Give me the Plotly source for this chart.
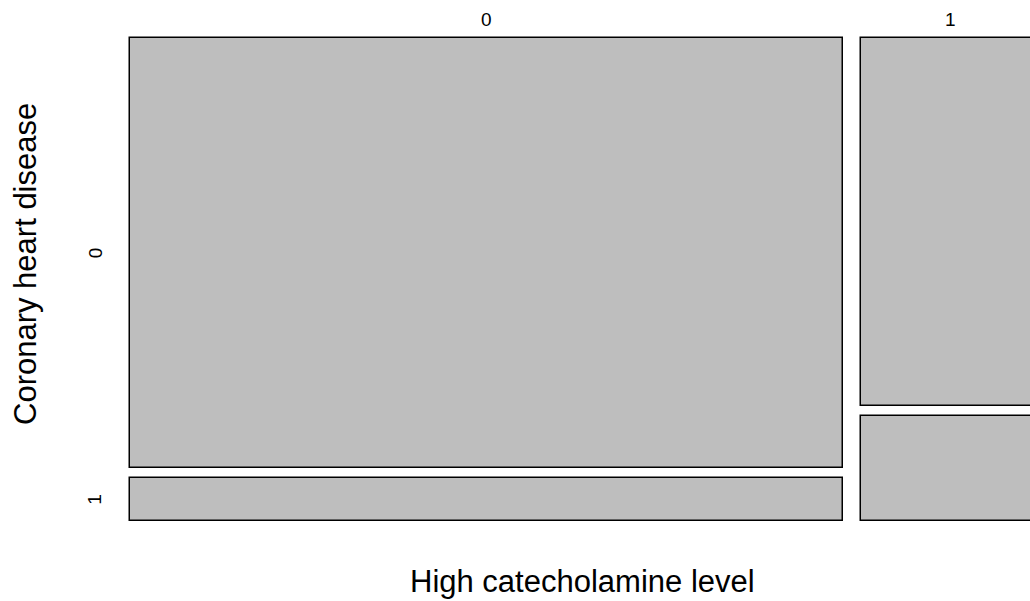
import plotly.graph_objects as go

# Data: Evans County - catecholamine level (CAT) vs coronary heart disease (CHD)
cat_levels = ["0", "1"]
chd_levels = ["0", "1"]
counts_chd0 = [443, 95]   # CHD = 0 for CAT = 0, 1
counts_chd1 = [44, 27]    # CHD = 1 for CAT = 0, 1

# style constants
GAP_X = 0.0202
GAP_Y = 0.02114
FILL = "#BEBEBE"

totals = [a + b for a, b in zip(counts_chd0, counts_chd1)]
N = sum(totals)
widths = [t / N for t in totals]

x_starts = []
pos = 0.0
for w in widths:
    x_starts.append(pos)
    pos += w + GAP_X

fig = go.Figure()
for i, cat in enumerate(cat_levels):
    p1 = counts_chd1[i] / totals[i]
    p0 = counts_chd0[i] / totals[i]
    xc = x_starts[i] + widths[i] / 2
    # CHD = 1 (bottom)
    fig.add_trace(go.Bar(x=[xc], y=[p1], base=[0], width=[widths[i]],
                         marker=dict(color=FILL, line=dict(color="black", width=1.5)),
                         showlegend=False, hoverinfo="skip"))
    # CHD = 0 (top)
    fig.add_trace(go.Bar(x=[xc], y=[p0], base=[p1 + GAP_Y], width=[widths[i]],
                         marker=dict(color=FILL, line=dict(color="black", width=1.5)),
                         showlegend=False, hoverinfo="skip"))

xcenters = [x_starts[i] + widths[i] / 2 for i in range(len(cat_levels))]
p1_first = counts_chd1[0] / totals[0]
ycenters = [p1_first + GAP_Y + (1 - p1_first) / 2, p1_first / 2]

font = "Liberation Sans, Arial, sans-serif"
annotations = []
for xc, lab in zip(xcenters, cat_levels):
    annotations.append(dict(text=lab, x=xc, xref="x", y=(531 - 19) / 503, yref="paper",
                            xanchor="center", yanchor="middle", showarrow=False,
                            font=dict(size=19, family=font)))
for yc, lab in zip(ycenters, chd_levels):
    annotations.append(dict(text=lab, x=-(120 - 95) / 910, xref="paper", y=yc, yref="y",
                            xanchor="center", yanchor="middle", showarrow=False, textangle=-90,
                            font=dict(size=19, family=font)))
annotations += [
    dict(text="High catecholamine level", xref="paper", yref="paper",
         x=(582 - 120) / 910, y=-(581 - 531) / 503, xanchor="center", yanchor="middle",
         showarrow=False, font=dict(size=31, family=font)),
    dict(text="Coronary heart disease", xref="paper", yref="paper",
         x=-(120 - 25) / 910, y=(531 - 264) / 503, xanchor="center", yanchor="middle",
         textangle=-90, showarrow=False, font=dict(size=31, family=font)),
]

fig.update_layout(
    width=1030, height=601,
    margin=dict(l=120, r=0, t=28, b=70),
    plot_bgcolor="white", paper_bgcolor="white",
    barmode="overlay", bargap=0,
    font=dict(family=font, color="black"),
    xaxis=dict(range=[-10 / 891.6, 900 / 891.6], showgrid=False, zeroline=False,
               showline=False, showticklabels=False, ticks=""),
    yaxis=dict(range=[-10 / 473, 1 + GAP_Y + 10 / 473], showgrid=False, zeroline=False,
               showline=False, showticklabels=False, ticks=""),
    annotations=annotations,
)

fig.write_html("out.html")
